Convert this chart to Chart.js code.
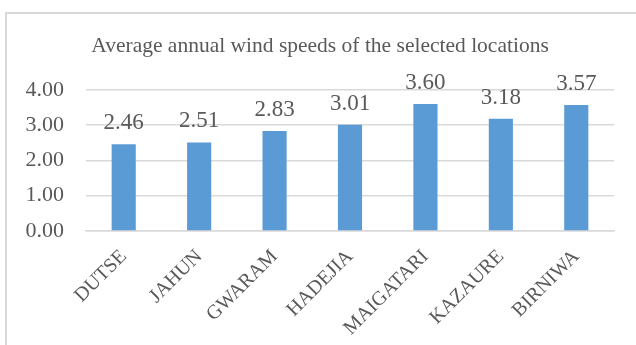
<!DOCTYPE html>
<html>
<head>
<meta charset="utf-8">
<script src="https://cdn.jsdelivr.net/npm/chart.js@4/dist/chart.umd.min.js"></script>
<style>
  html, body { margin: 0; padding: 0; background: #ffffff; }
  #wrap { position: relative; width: 636px; height: 345px; overflow: hidden; }
  #frame {
    position: absolute; left: 5px; top: 12px; width: 700px; height: 400px;
    border: 2px solid #d9d9d9; box-sizing: border-box;
  }
  #c { position: absolute; left: 0; top: 0; }
</style>
</head>
<body>
<div id="wrap">
  <div id="frame"></div>
  <canvas id="c" width="636" height="345"></canvas>
</div>
<script>
// Stations and their average annual wind speed (m/s)
const locations = ['DUTSE', 'JAHUN', 'GWARAM', 'HADEJIA', 'MAIGATARI', 'KAZAURE', 'BIRNIWA'];
const windSpeeds = [2.46, 2.51, 2.83, 3.01, 3.60, 3.18, 3.57];
const yTicks = [0, 1, 2, 3, 4];
const chartTitle = 'Average annual wind speeds of the selected locations';

const SERIF = '"Liberation Serif", "Times New Roman", serif';
const TEXT = '#595959';

// Writes each bar's value just above its top
const valueLabels = {
  id: 'valueLabels',
  afterDatasetsDraw(chart) {
    const ctx = chart.ctx;
    const meta = chart.getDatasetMeta(0);
    const data = chart.data.datasets[0].data;
    ctx.save();
    ctx.font = '23px ' + SERIF;
    ctx.fillStyle = TEXT;
    ctx.textAlign = 'center';
    ctx.textBaseline = 'alphabetic';
    meta.data.forEach((bar, i) => {
      ctx.fillText(Number(data[i]).toFixed(2), bar.x, bar.y - 15);
    });
    ctx.restore();
  }
};

new Chart(document.getElementById('c'), {
  type: 'bar',
  data: {
    labels: locations,
    datasets: [{
      data: windSpeeds,
      backgroundColor: '#5b9bd5',
      borderWidth: 0,
      barPercentage: 0.32,
      categoryPercentage: 1.0
    }]
  },
  options: {
    responsive: false,
    devicePixelRatio: 1,
    animation: false,
    layout: { padding: { left: 26, right: 22, top: 0, bottom: 0 } },
    plugins: {
      legend: { display: false },
      tooltip: { enabled: false },
      title: {
        display: true,
        text: chartTitle,
        color: TEXT,
        font: { family: SERIF, size: 21.5, weight: 'normal' },
        padding: { top: 33, bottom: 31 }
      }
    },
    scales: {
      x: {
        grid: { display: false },
        border: { display: true, color: '#d9d9d9', width: 1.5 },
        ticks: {
          color: TEXT,
          font: { family: SERIF, size: 20 },
          minRotation: 45,
          maxRotation: 45,
          padding: 6
        },
        afterFit(scale) { scale.height = 114; }
      },
      y: {
        min: 0,
        max: 4,
        border: { display: false },
        grid: { color: '#d9d9d9', lineWidth: 1.5, drawTicks: false },
        afterBuildTicks(scale) { scale.ticks = yTicks.map(v => ({ value: v })); },
        ticks: {
          color: TEXT,
          font: { family: SERIF, size: 22 },
          padding: 22,
          callback: v => Number(v).toFixed(2)
        },
        afterFit(scale) { scale.width = 60; }
      }
    }
  },
  plugins: [valueLabels]
});
</script>
</body>
</html>
